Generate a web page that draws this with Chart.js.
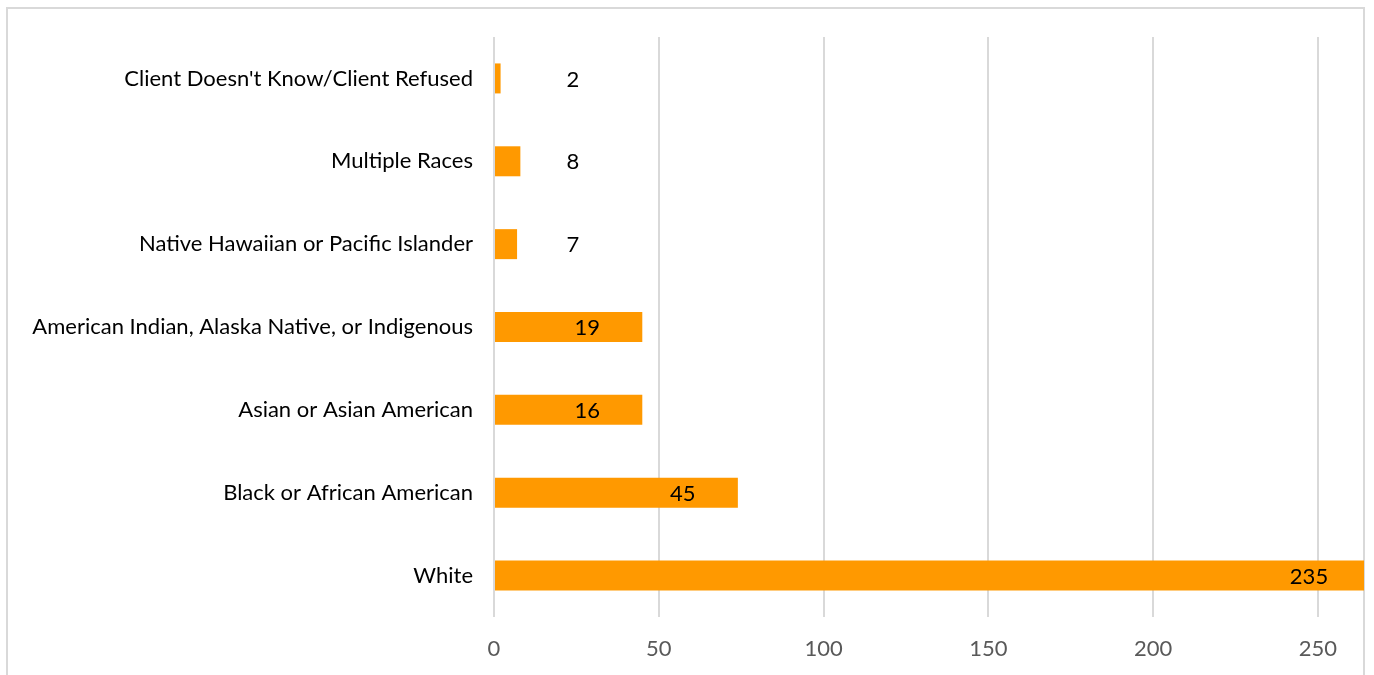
<!DOCTYPE html>
<html>
<head>
<meta charset="utf-8">
<script src="https://cdn.jsdelivr.net/npm/chart.js@4.4.1/dist/chart.umd.min.js"></script>
<style>
  html, body { margin: 0; padding: 0; background: #fff; }
  #wrap { width: 1374px; height: 675px; }
</style>
</head>
<body>
<div id="wrap"><canvas id="myCanvas" width="1374" height="675"></canvas></div>
<script>
// categories, top to bottom
const categories = [
  "Client Doesn't Know/Client Refused",
  "Multiple Races",
  "Native Hawaiian or Pacific Islander",
  "American Indian, Alaska Native, or Indigenous",
  "Asian or Asian American",
  "Black or African American",
  "White"
];
// bar lengths as drawn in the picture (axis units)
const barLengths = [2, 8, 7, 45, 45, 74, 264];
// numbers printed on the bars
const counts = [2, 8, 7, 19, 16, 45, 235];
const xTicks = [0, 50, 100, 150, 200, 250];
const xMax = 264;

const fontFamily = "Lato, 'Open Sans', sans-serif";

// outer frame like the exported chart area
const framePlugin = {
  id: 'frame',
  beforeDraw(chart) {
    const c = chart.ctx;
    c.save();
    c.fillStyle = '#fff';
    c.fillRect(0, 0, chart.width, chart.height);
    c.strokeStyle = '#d9d9d9';
    c.lineWidth = 2;
    c.beginPath();
    c.moveTo(7, 680);
    c.lineTo(7, 8);
    c.lineTo(1364, 8);
    c.lineTo(1364, 680);
    c.stroke();
    c.restore();
  }
};

// value labels: inside the end for long bars, beside for short ones
const countLabels = {
  id: 'countLabels',
  afterDatasetsDraw(chart) {
    const c = chart.ctx;
    const x = chart.scales.x;
    const meta = chart.getDatasetMeta(0);
    c.save();
    c.font = "22px " + fontFamily;
    c.fillStyle = '#000';
    c.textAlign = 'center';
    c.textBaseline = 'middle';
    meta.data.forEach((bar, i) => {
      let px;
      if (barLengths[i] > 30) px = bar.x - 55;
      else px = x.getPixelForValue(0) + 79;
      c.fillText(String(counts[i]), px, bar.y + 1);
    });
    c.restore();
  }
};

function createBarChart() {
  const e = document.getElementById("myCanvas").getContext("2d");
  new Chart(e, {
    type: "bar",
    data: {
      labels: categories,
      datasets: [{
        data: barLengths,
        backgroundColor: "#ff9900",
        borderWidth: 0,
        categoryPercentage: 1,
        barPercentage: 0.362
      }]
    },
    options: {
      indexAxis: 'y',
      responsive: false,
      animation: false,
      layout: { padding: { top: 37, right: 10, left: 0, bottom: 0 } },
      plugins: {
        legend: { display: false },
        tooltip: { enabled: false }
      },
      scales: {
        x: {
          min: 0,
          max: xMax,
          afterFit: s => { s.height = 58; s.paddingRight = 0; },
          afterBuildTicks: s => {
            s.ticks = xTicks.map(v => ({ value: v })).concat([{ value: xMax }]);
          },
          border: { display: false },
          grid: { color: '#d9d9d9', lineWidth: 2, drawTicks: false },
          ticks: {
            padding: 19,
            color: '#595959',
            font: { family: fontFamily, size: 22 },
            callback: v => xTicks.includes(v) ? v : ''
          }
        },
        y: {
          afterFit: s => { s.width = 494; },
          border: { display: false },
          grid: { display: false, drawTicks: false },
          ticks: {
            padding: 21,
            color: '#000',
            font: { family: fontFamily, size: 22 }
          }
        }
      }
    },
    plugins: [framePlugin, countLabels]
  });
}
createBarChart();
</script>
</body>
</html>
